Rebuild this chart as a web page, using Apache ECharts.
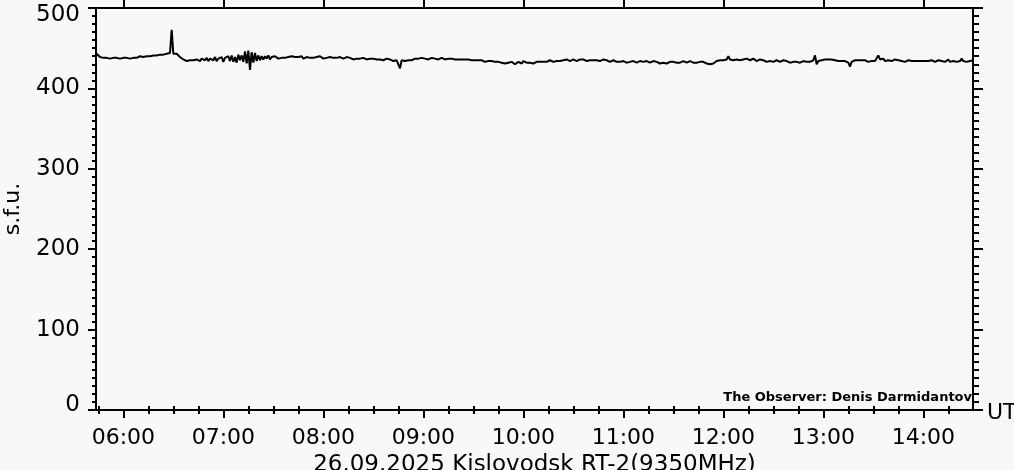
<!DOCTYPE html>
<html>
<head>
<meta charset="utf-8">
<script src="https://cdn.jsdelivr.net/npm/echarts@6/dist/echarts.min.js"></script>
<style>
html,body{margin:0;padding:0;background:#f8f8f8;}
#chart{width:1014px;height:470px;}
</style>
</head>
<body>
<div id="chart"></div>
<script>
// Time in minutes since 00:00 UT, one sample per minute starting at 05:44
const startMinute = 344;
const flux = [
443,441,439,438,438,437,438,438,437,438,
438,437,438,438,437,438,438,437,438,438,
437,438,438,437,438,439,440,440,439,440,
440,441,440,440,441,443,441,443,442,444,
442,444,443,442,444,473,443,444,443,441,
439,437,436,435,434,436,435,437,435,436,
436,438,434,437,436,435,438,434,437,436,
435,439,434,437,435,439,433,438,436,440,
434,441,433,439,432,442,435,441,433,446,
431,447,423,445,432,444,434,441,435,440,
436,440,437,441,436,439,437,440,438,437,
439,438,440,438,437,439,438,440,438,439,
437,439,438,440,437,438,439,437,438,440,
438,437,439,438,440,438,437,439,438,438,
439,437,438,440,438,437,439,438,437,438,
439,437,438,438,436,438,437,438,437,436,
438,437,436,438,437,436,437,438,436,437,
436,437,435,436,437,435,436,435,434,436,
435,436,425,435,436,434,436,435,437,435,
436,437,435,437,436,438,436,437,438,436,
437,438,436,437,439,436,437,438,437,436,
438,437,436,437,438,436,437,436,437,436,
437,436,435,436,437,435,436,435,434,435,
434,435,434,433,435,434,433,434,435,433,
434,433,434,432,433,431,433,432,431,433,
432,430,431,433,432,431,434,433,432,433,
432,433,431,432,433,432,433,434,433,434,
433,434,435,434,433,435,434,435,434,435,
435,434,436,435,434,435,436,435,434,435,
436,435,436,435,434,436,435,436,435,434,
435,436,434,435,436,434,435,434,433,434,
435,434,433,434,433,435,434,433,432,434,
433,432,434,433,432,433,434,432,433,432,
434,433,432,433,434,432,433,432,431,433,
432,433,431,432,433,432,433,434,432,433,
432,433,434,433,432,433,434,433,432,433,
432,434,433,432,433,432,431,432,430,429,
431,433,434,433,435,436,435,437,436,440,
436,438,435,437,436,438,435,437,436,435,
437,436,435,436,437,435,434,435,436,434,
435,434,433,435,434,435,433,434,435,434,
433,434,435,433,434,433,432,434,433,432,
433,434,432,433,434,432,433,435,433,434,
435,441,430,434,436,435,437,436,435,436,
435,436,434,435,436,434,435,434,433,434,
433,432,427,433,434,435,434,435,434,435,
434,435,434,433,435,434,435,434,436,441,
436,435,437,434,436,435,437,434,435,436,
434,435,436,434,435,433,434,435,433,434,
435,434,433,434,435,434,433,434,432,434,
433,435,434,433,434,435,433,434,435,433,
434,436,433,435,434,436,433,435,434,437,
434,436,433,435,434,436,435
];
const hourTicks = [360,420,480,540,600,660,720,780,840];
const quarterTicks = [345,375,390,405,435,450,465,495,510,525,555,570,585,615,630,645,675,690,705,735,750,765,795,810,825,855];
const xMin = 343.6, xMax = 869.8;
const titleText = '26.09.2025 Kislovodsk RT-2(9350MHz)';
const observerText = 'The Observer: Denis Darmidantov';
const yName = 's.f.u.';
const xUnit = 'UT';

const data = flux.map((v, i) => [startMinute + i, v]);
const fmt = m => { const h = Math.floor(m/60), mm = Math.round(m%60); return (h<10?'0':'')+h+':'+(mm<10?'0':'')+mm; };
const FONT = 'DejaVu Sans';
const axisLine = {show:true, onZero:false, lineStyle:{color:'#000', width:2}};

const chart = echarts.init(document.getElementById('chart'), null, {renderer:'canvas'});
chart.setOption({
  backgroundColor:'#f8f8f8',
  animation:false,
  title:{text:observerText, right:42, top:391, padding:0,
    textStyle:{fontFamily:FONT, fontSize:13, fontWeight:'bold', color:'#000'}},
  grid:{left:96, right:41, top:8, bottom:60, outerBoundsMode:'none', containLabel:false},
  xAxis:[
    {type:'value', position:'bottom', min:xMin, max:xMax,
     axisLine:axisLine, splitLine:{show:false},
     axisTick:{show:true, customValues:hourTicks, length:8, lineStyle:{color:'#000', width:2}},
     axisLabel:{customValues:hourTicks, formatter:fmt, margin:17, color:'#000', fontFamily:FONT, fontSize:22},
     name:titleText, nameLocation:'middle', nameGap:39,
     nameTextStyle:{fontFamily:FONT, fontSize:23, color:'#000'}},
    {type:'value', position:'bottom', min:xMin, max:xMax,
     axisLine:{show:false}, splitLine:{show:false},
     axisTick:{show:true, customValues:quarterTicks, length:4, lineStyle:{color:'#000', width:2}},
     axisLabel:{show:false},
     name:xUnit, nameLocation:'end', nameGap:14,
     nameTextStyle:{fontFamily:FONT, fontSize:22, color:'#000', verticalAlign:'top', lineHeight:6}},
    {type:'value', position:'top', min:xMin, max:xMax,
     axisLine:axisLine, splitLine:{show:false},
     axisTick:{show:true, customValues:hourTicks, length:8, lineStyle:{color:'#000', width:2}},
     axisLabel:{show:false}},
    {type:'value', position:'top', min:xMin, max:xMax,
     axisLine:{show:false}, splitLine:{show:false},
     axisTick:{show:true, customValues:quarterTicks, length:4, lineStyle:{color:'#000', width:2}},
     axisLabel:{show:false}}
  ],
  yAxis:[
    {type:'value', position:'left', min:0, max:500, interval:100,
     axisLine:axisLine, splitLine:{show:false},
     axisTick:{show:true, length:8, lineStyle:{color:'#000', width:2}},
     minorTick:{show:true, splitNumber:10, length:4, lineStyle:{color:'#000', width:2}},
     axisLabel:{margin:16, color:'#000', fontFamily:FONT, fontSize:23,
       formatter:v => v===500 ? '{a|500}' : (v===0 ? '{b|0}' : String(v)),
       rich:{a:{fontFamily:FONT, fontSize:23, color:'#000', padding:[14,0,0,0]},
             b:{fontFamily:FONT, fontSize:23, color:'#000', padding:[0,0,9,0]}}},
     name:yName, nameLocation:'middle', nameGap:72, nameRotate:90,
     nameTextStyle:{fontFamily:FONT, fontSize:22, color:'#000'}},
    {type:'value', position:'right', min:0, max:500, interval:100,
     axisLine:axisLine, splitLine:{show:false},
     axisTick:{show:true, length:10, lineStyle:{color:'#000', width:2}},
     minorTick:{show:true, splitNumber:10, length:6, lineStyle:{color:'#000', width:2}},
     axisLabel:{show:false}}
  ],
  series:[{type:'line', xAxisIndex:0, yAxisIndex:0, data:data, showSymbol:false,
    lineStyle:{color:'#000', width:2}, silent:true}]
});
</script>
</body>
</html>
